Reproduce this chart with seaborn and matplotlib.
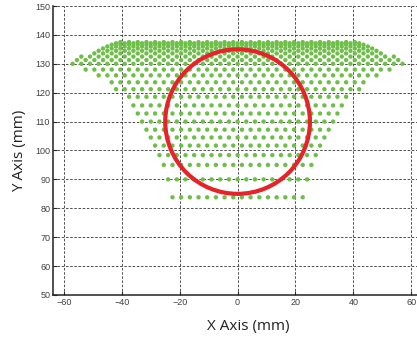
import numpy as np
import pandas as pd
import matplotlib.pyplot as plt
import seaborn as sns
from matplotlib.patches import Circle

# rows of the point grid (bottom to top)
row_y = [83.8, 90.0, 95.0, 98.4, 101.7, 104.5, 107.2, 110.0, 112.8, 115.6,
         118.6, 121.2, 123.6, 126.0, 128.0, 130.0, 131.3, 132.5, 133.6, 134.5,
         135.3, 136.0, 136.6, 137.1, 137.5]
row_half_width = [22.5, 24, 25.5, 27, 28.5, 30, 31.5, 33, 34.5, 36,
                  37.5, 42, 43.5, 48, 52.5, 57, 55.5, 54, 49.5, 48,
                  46.5, 45, 43.5, 42, 40.5]
dot_step = 3.0  # x spacing of dots inside one row

circle_center = (0, 110)
circle_radius = 25

x_ticks = [-60, -40, -20, 0, 20, 40, 60]
y_ticks = [50, 60, 70, 80, 90, 100, 110, 120, 130, 140, 150]

xs, ys = [], []
for y, hw in zip(row_y, row_half_width):
    row_x = np.arange(-hw, hw + 0.01, dot_step)
    xs.extend(row_x)
    ys.extend([y] * len(row_x))
points = pd.DataFrame({'x': xs, 'y': ys})

sns.set_style('ticks')
plt.rcParams['font.family'] = ['Liberation Sans', 'DejaVu Sans']

fig = plt.figure(figsize=(4.17, 3.43), dpi=100)
ax = fig.add_axes([0.127, 0.14, 0.873, 0.8425])

sns.scatterplot(data=points, x='x', y='y', s=10, color='#6dbf47',
                edgecolor='none', linewidth=0, ax=ax, zorder=2)
ax.add_patch(Circle(circle_center, circle_radius, fill=False,
                    edgecolor='#e52328', linewidth=3, zorder=3))

ax.set_xlim(-63.8, 62)
ax.set_ylim(50, 150)
ax.set_xticks(x_ticks)
ax.set_yticks(y_ticks)
ax.set_axisbelow(True)
ax.grid(True, linestyle=(0, (3, 2)), color='#333333', linewidth=0.6)
sns.despine(ax=ax)
for side in ['left', 'bottom']:
    ax.spines[side].set_linewidth(1.1)
    ax.spines[side].set_color('#222222')
ax.tick_params(direction='in', length=3, labelsize=6.5, labelcolor='#404040', pad=2)

ax.set_xlabel('X Axis (mm)', fontsize=11, family='Open Sans', color='#222222')
ax.set_ylabel('Y Axis (mm)', fontsize=11, family='Open Sans', color='#222222')
ax.xaxis.set_label_coords(0.536, -0.083)
ax.yaxis.set_label_coords(-0.071, 0.5)

fig.savefig('out.png', dpi=100)
